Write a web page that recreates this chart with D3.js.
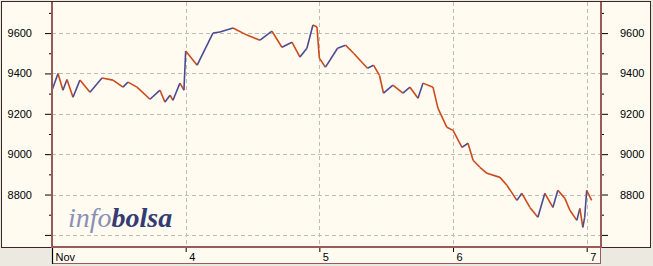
<!DOCTYPE html>
<html>
<head>
<meta charset="utf-8">
<script src="https://cdn.jsdelivr.net/npm/d3@7.9.0/dist/d3.min.js"></script>
<style>
  html, body { margin: 0; padding: 0; background: #ebe9e0; }
  svg { display: block; }
</style>
</head>
<body>
<div id="chart"></div>
<script>
// Time in days of November, index level
const times = [
  3.000, 3.045, 3.082, 3.112, 3.157, 3.209, 3.284, 3.374, 3.456, 3.531,
  3.568, 3.636, 3.733, 3.808, 3.845, 3.883, 3.905, 3.957, 3.987,
  4.000, 4.086, 4.204, 4.257, 4.354, 4.458, 4.556, 4.645, 4.720, 4.795,
  4.855, 4.907, 4.952, 4.982,
  5.000, 5.046, 5.136, 5.196, 5.256, 5.360, 5.405, 5.450, 5.480, 5.550,
  5.625, 5.678, 5.738, 5.775, 5.850, 5.887, 5.954,
  6.000, 6.067, 6.112, 6.150, 6.201, 6.254, 6.351, 6.403, 6.478, 6.515,
  6.575, 6.635, 6.687, 6.747, 6.784, 6.837, 6.874, 6.926, 6.949, 6.971,
  6.985, 7.000, 7.037
];
const values = [
  9317, 9400, 9317, 9370, 9282, 9367, 9307, 9377, 9367, 9332,
  9357, 9332, 9272, 9317, 9258, 9292, 9267, 9352, 9317,
  9511, 9441, 9600, 9605, 9625, 9590, 9565, 9610, 9530, 9555,
  9481, 9525, 9640, 9630,
  9476, 9431, 9525, 9540, 9500, 9426, 9441, 9390, 9302, 9342,
  9302, 9332, 9277, 9352, 9332, 9228, 9133,
  9118, 9034, 9054, 8970, 8935, 8905, 8885, 8846, 8771, 8806,
  8736, 8687, 8806, 8736, 8821, 8781, 8722, 8672, 8731, 8637,
  8687, 8821, 8771
];
const yTicks = [8600, 8800, 9000, 9200, 9400, 9600];
const yLabels = [8800, 9000, 9200, 9400, 9600];
const yMinor = [8700, 8900, 9100, 9300, 9500, 9700];
const dayTicks = [3, 4, 5, 6, 7];
const dayLabels = ['Nov', '4', '5', '6', '7'];

const W = 653, H = 266;
const plot = { left: 52, right: 601, top: 2, bottom: 247 };

const svg = d3.select('#chart').append('svg')
  .attr('width', W).attr('height', H);

const cream = '#fffbf0';
const frame = '#9a5a5a';
const dark = '#3a2626';

// background
svg.append('rect').attr('width', W).attr('height', H).attr('fill', '#ebe9e0');

const x = d3.scaleLinear().domain([3, 7.107]).range([plot.left, plot.right]);
const y = d3.scaleLinear().domain([8540, 9754]).range([plot.bottom, plot.top]);

// panels
svg.append('rect').attr('x', 1.5).attr('y', 1.5).attr('width', 649).attr('height', 246)
  .attr('fill', cream).attr('stroke', dark).attr('stroke-width', 1);
svg.append('rect').attr('x', 52).attr('y', 248).attr('width', 549).attr('height', 15)
  .attr('fill', cream);
svg.append('line').attr('x1', 52).attr('x2', 601).attr('y1', 263.5).attr('y2', 263.5)
  .attr('stroke', frame).attr('stroke-width', 1.2);
svg.append('line').attr('x1', 52.5).attr('x2', 52.5).attr('y1', 247).attr('y2', 264)
  .attr('stroke', '#000').attr('stroke-width', 1.2);
svg.append('line').attr('x1', 600.5).attr('x2', 600.5).attr('y1', 247).attr('y2', 264)
  .attr('stroke', frame).attr('stroke-width', 1);

// grid
const g = svg.append('g');
g.selectAll('line.hgrid').data(yTicks).enter().append('line')
  .attr('class', 'hgrid')
  .attr('x1', plot.left).attr('x2', plot.right)
  .attr('y1', d => Math.round(y(d)) + 0.5).attr('y2', d => Math.round(y(d)) + 0.5)
  .attr('stroke', '#bdbdb4').attr('stroke-dasharray', '4,3');
g.selectAll('line.vgrid').data(dayTicks.slice(1)).enter().append('line')
  .attr('class', 'vgrid')
  .attr('x1', d => Math.round(x(d)) + 0.5).attr('x2', d => Math.round(x(d)) + 0.5)
  .attr('y1', plot.top).attr('y2', plot.bottom)
  .attr('stroke', '#bdbdb4').attr('stroke-dasharray', '4,3');

// watermark
const wm = svg.append('text').attr('x', 68).attr('y', 227)
  .style('font-family', '"Liberation Serif", serif')
  .style('font-style', 'italic').style('font-size', '28px');
wm.append('tspan').attr('fill', '#8a90b4').text('info');
wm.append('tspan').attr('fill', '#333b72').style('font-weight', 'bold').text('bolsa');

// price series
const data = times.map((t, i) => ({ t, v: values[i] }));
const segs = d3.pairs(data);
svg.append('g').selectAll('line').data(segs).enter().append('line')
  .attr('x1', d => x(d[0].t)).attr('y1', d => y(d[0].v))
  .attr('x2', d => x(d[1].t)).attr('y2', d => y(d[1].v))
  .attr('stroke', d => d[1].v >= d[0].v ? '#4b4b95' : '#cc4a1c')
  .attr('stroke-width', 1.6);

// frame lines of the plot
svg.append('line').attr('x1', 52).attr('x2', 601).attr('y1', 247).attr('y2', 247)
  .attr('stroke', frame).attr('stroke-width', 2);
svg.append('line').attr('x1', 52).attr('x2', 52).attr('y1', 1).attr('y2', 248)
  .attr('stroke', frame).attr('stroke-width', 2);
svg.append('line').attr('x1', 601).attr('x2', 601).attr('y1', 1).attr('y2', 248)
  .attr('stroke', frame).attr('stroke-width', 2);
svg.append('line').attr('x1', 1).attr('x2', 651).attr('y1', 1.5).attr('y2', 1.5)
  .attr('stroke', dark).attr('stroke-width', 1);

// y axes
const font = '"Liberation Sans", Arial, sans-serif';
const fmt = d => yLabels.includes(d) ? d3.format('d')(d) : '';
const leftAx = svg.append('g').attr('transform', 'translate(51,0)')
  .call(d3.axisLeft(y).tickValues(yTicks).tickSize(6).tickPadding(13).tickSizeOuter(0).tickFormat(fmt));
const rightAx = svg.append('g').attr('transform', 'translate(602,0)')
  .call(d3.axisRight(y).tickValues(yTicks).tickSize(6).tickPadding(12).tickSizeOuter(0).tickFormat(fmt));
[leftAx, rightAx].forEach(a => {
  a.select('.domain').remove();
  a.selectAll('line').attr('stroke', '#000');
  a.selectAll('text').attr('fill', '#000').style('font-family', font).style('font-size', '11px');
});
svg.append('g').attr('transform', 'translate(51,0)')
  .call(d3.axisLeft(y).tickValues(yMinor).tickSize(2).tickFormat(''))
  .call(a => a.select('.domain').remove())
  .selectAll('line').attr('stroke', '#000');
svg.append('g').attr('transform', 'translate(602,0)')
  .call(d3.axisRight(y).tickValues(yMinor).tickSize(2).tickFormat(''))
  .call(a => a.select('.domain').remove())
  .selectAll('line').attr('stroke', '#000');

// x axis
const xAx = svg.append('g').attr('transform', 'translate(0,248)')
  .call(d3.axisBottom(x).tickValues(dayTicks).tickSize(4).tickFormat((d, i) => dayLabels[i]));
xAx.select('.domain').remove();
xAx.selectAll('line').attr('stroke', '#000');
xAx.selectAll('text').attr('fill', '#000').attr('text-anchor', 'start')
  .attr('x', 3).attr('y', 5)
  .style('font-family', font).style('font-size', '11px');
</script>
</body>
</html>
